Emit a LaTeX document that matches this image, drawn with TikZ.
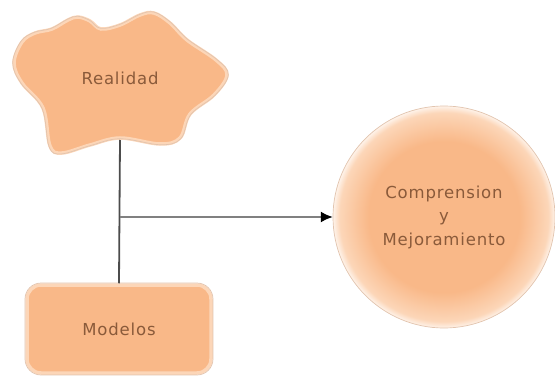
\documentclass[tikz,border=0pt]{standalone}
\usepackage{fontspec}
\setmainfont{DejaVu Sans}[LetterSpace=5]
\usetikzlibrary{arrows.meta}
\definecolor{peach}{HTML}{F9B888}
\definecolor{peachlt}{HTML}{FCD6B8}
\definecolor{rim}{HTML}{E2C4AE}
\definecolor{txt}{HTML}{8A5A3A}
\pgfdeclareradialshading{glow}{\pgfpoint{0bp}{0bp}}{color(0bp)=(peach); color(17bp)=(peach); color(23.5bp)=(peachlt); color(25bp)=(white!70!peachlt); color(50bp)=(white)}
\tikzset{
  lbl/.style={text=txt, font=\fontsize{16.5}{23.5}\selectfont, align=center},
  rimline/.style={draw=rim, line width=0.7pt},
  link/.style={draw=black!70, line width=1.8pt},
}
\begin{document}
\begin{tikzpicture}[x=1pt,y=-1pt]
\useasboundingbox (0,0) rectangle (555,380);
% cloud
\def\cloudpts{(14,63) (22,42) (35,33) (52,29) (68,20) (78,17) (90,21) (101,29) (120,25) (140,15) (154,13) (170,23) (187,40) (216,60) (227,75) (214,95) (190,114) (180,138) (160,144) (120,138) (90,145) (62,153) (50,146) (43,108) (22,83)}
\path[fill=peach, draw=peachlt, line width=3.5pt]
  plot[smooth cycle, tension=0.6] coordinates {\cloudpts};
\path[rimline, scale around={1.012:(120,80)}]
  plot[smooth cycle, tension=0.6] coordinates {\cloudpts};
\node[lbl] (real) at (120,78) {Realidad};
\coordinate (cb) at (120,140);
% model box
\node[lbl, fill=peach, draw=peachlt, line width=3.5pt, rounded corners=14pt,
  minimum width=184pt, minimum height=88pt] (mod) at (119,329) {Modelos};
\draw[rimline, rounded corners=16pt] (25,283) rectangle (213,375);
% circle
\shade[shading=glow] (444,217) circle (111);
\draw[rimline] (444,217) circle (111);
\node[lbl, minimum size=222pt, circle] (comp) at (444,217) {Comprension\\y\\Mejoramiento};
% connectors
\coordinate (j) at (120,217);
\draw[link] (cb) -- (mod.north);
\draw[link, draw=black!50, -{Latex[length=12pt,width=11pt,black]}] (j) -- (comp.west);
\end{tikzpicture}
\end{document}
